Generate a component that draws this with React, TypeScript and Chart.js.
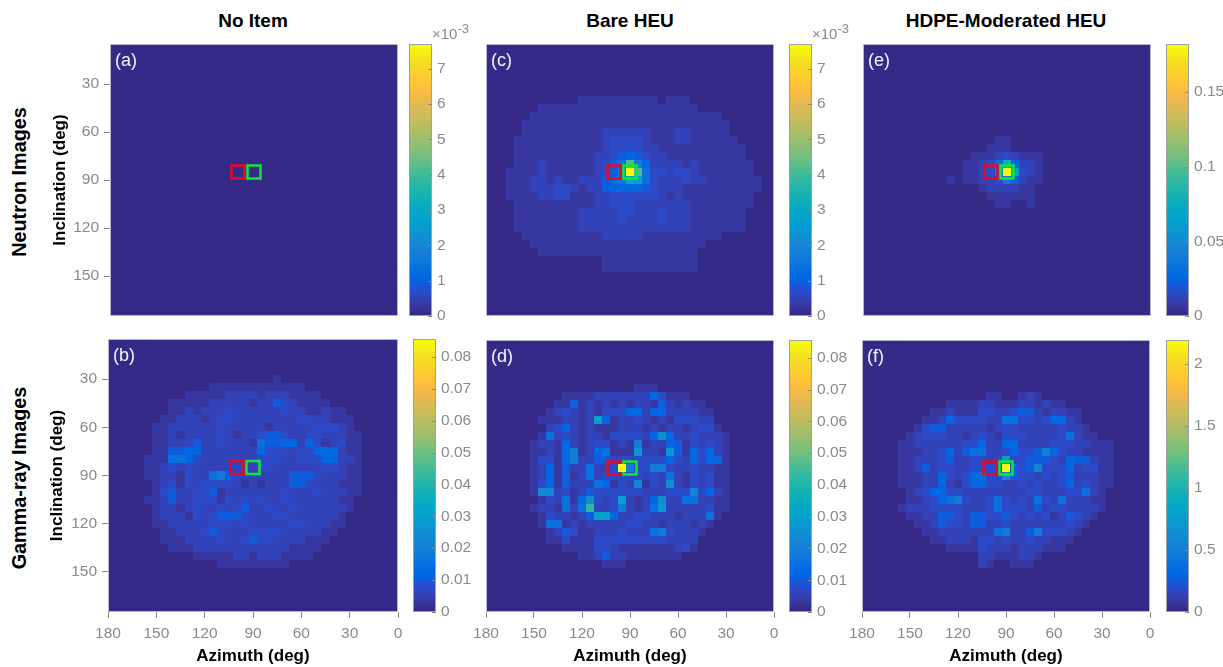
import React, { useEffect, useRef } from "react";
import { Chart, registerables } from "chart.js";

Chart.register(...registerables);

const FONT = '"Liberation Sans", Arial, sans-serif';
const GRAY = "#8a8a8a";
const SOFT = "blur(0.55px)";

// ---- axes ----
const azimuthTicks = [180, 150, 120, 90, 60, 30, 0];
const inclinationTicks = [30, 60, 90, 120, 150];
const azimuthCentres = [180, 175, 170, 165, 160, 155, 150, 145, 140, 135, 130, 125, 120, 115, 110, 105, 100, 95, 90, 85, 80, 75, 70, 65, 60, 55, 50, 45, 40, 35, 30, 25, 20, 15, 10, 5, 0];
const inclinationCentres = [5, 10, 15, 20, 25, 30, 35, 40, 45, 50, 55, 60, 65, 70, 75, 80, 85, 90, 95, 100, 105, 110, 115, 120, 125, 130, 135, 140, 145, 150, 155, 160, 165, 170, 175];

// ---- measurement cells ----
const redBox = [{ x: 100, y: 85 }];
const greenBox = [{ x: 90, y: 85 }];

// ---- colour scale limits and ticks ----
const neutronEmptyMax = 7.7e-3;
const gammaMax = 0.0856;
const moderatedNeutronMax = 0.182;
const moderatedGammaMax = 2.19;
const neutronTicks = [0, 1e-3, 2e-3, 3e-3, 4e-3, 5e-3, 6e-3, 7e-3];
const gammaTicks = [0, 0.01, 0.02, 0.03, 0.04, 0.05, 0.06, 0.07, 0.08];
const moderatedNeutronTicks = [0, 0.05, 0.1, 0.15];
const moderatedGammaTicks = [0, 0.5, 1, 1.5, 2];

// ---- image values: one character per cell, base 36, 0 = scale minimum, z = scale maximum ----
const noItemNeutron: string[] = [];

const noItemGamma = [
  "", "", "", "", "",
  "00000 00000 00000 00000 01000",
  "00000 00000 00011 11111 11111 00000",
  "00000 00000 11111 22221 22211 11000",
  "00000 00011 11122 22212 24321 11100",
  "00000 00011 21222 32222 22322 11211",
  "00000 00112 22123 32222 22223 32211 1",
  "00000 01122 22223 22222 12222 23332 1",
  "00000 01121 22223 21223 44322 33222 11",
  "00000 01122 34223 22216 44552 53123 11",
  "00000 01144 55222 22225 33323 35552 11",
  "00000 11166 53222 22223 33223 33552 21",
  "00000 11232 32222 22223 32222 22332 11",
  "00000 11221 32267 43222 22244 43222 11",
  "00000 01231 32333 32121 22244 32221 11",
  "00000 01342 23341 22222 22322 23222 11",
  "00000 11242 23331 32323 22322 22221 1",
  "00000 01221 23223 23422 32232 22222 1",
  "00000 01222 13234 44322 23322 22221",
  "00000 01122 22233 32322 22233 22211",
  "00000 00112 22343 22233 33222 22110",
  "00000 00111 22223 22343 32222 11100",
  "00000 00011 12222 22222 22211 11000",
  "00000 00000 01111 12212 22111 10000",
  "00000 00000 00001 11111 11100",
];

const bareNeutron = [
  "", "", "", "", "", "", "",
  "00000 00000 00111 11111 11011 10000",
  "00000 00111 11111 11111 11111 11000",
  "00000 01111 11111 11111 11111 11111",
  "00000 11111 11111 11111 11111 11111 1",
  "00000 11111 11111 22222 21112 21111 1",
  "00001 11111 11111 23333 21112 21111 11",
  "00001 11111 11111 23333 22111 11111 111",
  "00001 11111 11112 23454 32211 11111 111",
  "00001 11211 11112 346j8 52222 12111 1111",
  "00011 11211 11112 348zj 63323 32111 1111",
  "00011 12212 11222 457ed 63222 32211 11111",
  "00011 12223 32122 45555 43222 11111 11111",
  "00011 11223 31112 23333 33212 11111 1111",
  "00001 11111 11112 23332 22222 21111 1111",
  "00001 11111 11222 22332 22322 21111 111",
  "00001 11111 11222 22322 22322 21111 111",
  "00001 11111 11222 22222 22222 21111 111",
  "00000 11111 11111 22222 11111 11111",
  "00000 01111 11111 11111 11111 11100",
  "00000 00111 11111 11111 11111 11000",
  "00000 00000 00000 11111 11111 11000",
  "00000 00000 00000 11111 11111 11000",
];

const bareGamma = [
  "", "", "", "", "", "",
  "00000 00000 00000 00001 11000",
  "00000 00000 11112 22222 25311 10000",
  "00000 00001 14121 21212 21421 21100",
  "00000 00012 32121 33355 25522 22110",
  "00000 00111 2212c 51223 21213 33220",
  "00000 00023 52121 11222 12122 12331",
  "00000 00162 32122 13333 25a52 23222 1",
  "00000 01221 52123 31218 12254 13232 1",
  "00000 01121 58125 6111b 221b4 15352 1",
  "00000 01331 58224 42333 33353 25355 1",
  "00000 01251 42262 23z83 38832 23221 1",
  "00000 01251 41262 33333 23262 13231 1",
  "00000 01351 42226 51329 132a2 13231 1",
  "00000 01992 31243 33333 22233 39352 1",
  "00000 00132 615a3 23c21 25a22 66221 1",
  "00000 01221 626h2 23721 26b22 22231 1",
  "00000 00132 2124c c5223 32221 22261",
  "00000 00166 12122 22233 22122 21210",
  "00000 00012 43112 22322 26732 22100",
  "00000 00011 31113 33333 33322 22000",
  "00000 00000 11113 32111 11112 31000",
  "00000 00000 00112 42211 11111 00000",
  "00000 00000 00000 11100",
];

const moderatedNeutron = [
  "", "", "", "", "", "", "", "", "", "", "", "",
  "00000 00000 00000 00110",
  "00000 00000 00000 01110",
  "00000 00000 00001 11232 11100",
  "00000 00000 00011 236f5 22100",
  "00000 00000 00011 237zc 32100",
  "00000 00000 01011 22374 21100",
  "00000 00000 00000 12222 11000",
  "00000 00000 00000 01111 11000",
  "00000 00000 00000 00110 01000",
];

const moderatedGamma = [
  "", "", "", "", "", "", "",
  "00000 00000 00000 01100 12100",
  "00000 00000 01111 22111 22121 10000",
  "00000 00001 12111 33223 44212 21100",
  "00000 00011 25333 32266 33235 52100",
  "00000 00134 42222 21233 22222 32210",
  "00000 01233 32212 32133 32222 36211",
  "00000 11222 22233 52255 22223 33221 11",
  "00000 11122 35246 62235 33485 32211 11",
  "00000 11222 34223 323b3 34443 25442 11",
  "00000 11242 33223 333z4 34933 35233 11",
  "00000 11122 53235 63394 33232 34222 11",
  "00000 11122 52135 53322 32322 35232 11",
  "00000 01235 53322 22222 23322 23362 1",
  "00000 01123 56732 23632 32632 62221 1",
  "00000 12223 33322 23633 32423 32222 1",
  "00000 01122 44324 43343 23231 24321",
  "00000 00112 43324 42232 22222 23210",
  "00000 00011 22222 22672 24733 32100",
  "00000 00001 12221 33232 23221 11000",
  "00000 00000 01111 32221 22211 10000",
  "00000 00000 00000 22111 22100",
  "00000 00000 00000 21001 11000",
];

// ---- parula ----
const parula = [
  [0.2081, 0.1663, 0.5292], [0.2116, 0.1898, 0.5777], [0.2123, 0.2138, 0.627], [0.2081, 0.2386, 0.6771],
  [0.1959, 0.2645, 0.7279], [0.1707, 0.2919, 0.7792], [0.1253, 0.3242, 0.8303], [0.0591, 0.3598, 0.8683],
  [0.0117, 0.3875, 0.882], [0.006, 0.4086, 0.8828], [0.0165, 0.4266, 0.8786], [0.0329, 0.443, 0.872],
  [0.0498, 0.4586, 0.8641], [0.0629, 0.4737, 0.8554], [0.0723, 0.4887, 0.8467], [0.0779, 0.504, 0.8384],
  [0.0793, 0.52, 0.8312], [0.0749, 0.5375, 0.8263], [0.0641, 0.557, 0.824], [0.0488, 0.5772, 0.8228],
  [0.0343, 0.5966, 0.8199], [0.0265, 0.6137, 0.8135], [0.0239, 0.6287, 0.8038], [0.0231, 0.6418, 0.7913],
  [0.0228, 0.6535, 0.7768], [0.0267, 0.6642, 0.7607], [0.0384, 0.6743, 0.7436], [0.059, 0.6838, 0.7254],
  [0.0843, 0.6928, 0.7062], [0.1133, 0.7015, 0.6859], [0.1453, 0.7098, 0.6646], [0.1801, 0.7177, 0.6424],
  [0.2178, 0.725, 0.6193], [0.2586, 0.7317, 0.5954], [0.3022, 0.7376, 0.5712], [0.3482, 0.7424, 0.5473],
  [0.3953, 0.7459, 0.5244], [0.442, 0.7481, 0.5033], [0.4871, 0.7491, 0.484], [0.53, 0.7491, 0.4661],
  [0.5709, 0.7485, 0.4494], [0.6099, 0.7473, 0.4337], [0.6473, 0.7456, 0.4188], [0.6834, 0.7435, 0.4044],
  [0.7184, 0.7411, 0.3905], [0.7525, 0.7384, 0.3768], [0.7858, 0.7356, 0.3633], [0.8185, 0.7327, 0.3498],
  [0.8507, 0.7299, 0.336], [0.8824, 0.7274, 0.3217], [0.9139, 0.7258, 0.3063], [0.945, 0.7261, 0.2886],
  [0.9739, 0.7314, 0.2666], [0.9938, 0.7455, 0.2403], [0.999, 0.7653, 0.2164], [0.9955, 0.7861, 0.1967],
  [0.988, 0.8066, 0.1794], [0.9789, 0.8271, 0.1633], [0.9697, 0.8481, 0.1475], [0.9626, 0.8705, 0.1309],
  [0.9589, 0.8949, 0.1132], [0.9598, 0.9218, 0.0948], [0.9661, 0.9514, 0.0755], [0.9763, 0.9831, 0.0538],
];

function colourOf(fraction: number) {
  const k = Math.max(0, Math.min(parula.length - 1, Math.round(fraction * (parula.length - 1))));
  const [r, g, b] = parula[k];
  return `rgb(${Math.round(r * 255)},${Math.round(g * 255)},${Math.round(b * 255)})`;
}

function cellsFrom(rows: string[], max: number) {
  const points: { x: number; y: number; v: number }[] = [];
  inclinationCentres.forEach((inc, j) => {
    const row = (rows[j] || "").replace(/ /g, "");
    azimuthCentres.forEach((az, i) => {
      const level = parseInt(row[i] || "0", 36) || 0;
      points.push({ x: az, y: inc, v: (level / 35) * max });
    });
  });
  return points;
}

// ---- panels ----
const panels = [
  { label: "(a)", rows: noItemNeutron, max: neutronEmptyMax, ticks: neutronTicks, l: 110, r: 398, t: 44, b: 316, barL: 409, yAxis: true, xAxis: false, titleLeft: 50 },
  { label: "(b)", rows: noItemGamma, max: gammaMax, ticks: gammaTicks, l: 108, r: 398, t: 339, b: 612, barL: 413, yAxis: true, xAxis: true, titleLeft: 47 },
  { label: "(c)", rows: bareNeutron, max: neutronEmptyMax, ticks: neutronTicks, l: 486, r: 774, t: 44, b: 316, barL: 789, yAxis: false, xAxis: false, titleLeft: 0 },
  { label: "(d)", rows: bareGamma, max: gammaMax, ticks: gammaTicks, l: 486, r: 774, t: 340, b: 612, barL: 789, yAxis: false, xAxis: true, titleLeft: 0 },
  { label: "(e)", rows: moderatedNeutron, max: moderatedNeutronMax, ticks: moderatedNeutronTicks, l: 863, r: 1151, t: 44, b: 316, barL: 1166, yAxis: false, xAxis: false, titleLeft: 0 },
  { label: "(f)", rows: moderatedGamma, max: moderatedGammaMax, ticks: moderatedGammaTicks, l: 862, r: 1150, t: 340, b: 612, barL: 1166, yAxis: false, xAxis: true, titleLeft: 0 },
];

const columnTitles = [
  { text: "No Item", x: 253, y: 20 },
  { text: "Bare HEU", x: 630, y: 20 },
  { text: "HDPE-Moderated HEU", x: 1006, y: 20 },
];
const rowTitles = [
  { text: "Neutron Images", x: 20, y: 181.5 },
  { text: "Gamma-ray Images", x: 20, y: 478 },
];
const exponentLabels = [{ x: 432 }, { x: 812 }];

function paintCell(ctx: any, ds: any, x: any, y: any, p: any) {
  const snap = (px: number) => Math.round(px + 1e-6);
  const x0 = snap(x.getPixelForValue(p.x - ds.cellW / 2));
  const x1 = snap(x.getPixelForValue(p.x + ds.cellW / 2));
  const y0 = snap(y.getPixelForValue(p.y - ds.cellH / 2));
  const y1 = snap(y.getPixelForValue(p.y + ds.cellH / 2));
  ctx.fillStyle = colourOf(p.v / ds.scaleMax);
  ctx.fillRect(Math.min(x0, x1), Math.min(y0, y1), Math.abs(x1 - x0), Math.abs(y1 - y0));
}

const cellsPlugin = {
  id: "cells",
  beforeDatasetsDraw(chart: any) {
    const { ctx, chartArea: a, scales } = chart;
    const ds = chart.data.datasets[0];
    ctx.save();
    ctx.beginPath();
    ctx.rect(a.left, a.top, a.width, a.height);
    ctx.clip();
    for (const p of ds.data) paintCell(ctx, ds, scales.x, scales.y, p);
    ctx.restore();
  },
  afterDatasetsDraw(chart: any) {
    const { ctx, chartArea: a, scales } = chart;
    const o = chart.options.plugins.cells;
    const ds = chart.data.datasets[0];
    ctx.save();
    // the peak cell stays on top of the box outlines
    if (o.label) {
      for (const p of ds.data) if (p.v >= ds.scaleMax) paintCell(ctx, ds, scales.x, scales.y, p);
    }
    ctx.strokeStyle = o.frame;
    ctx.lineWidth = 1;
    ctx.strokeRect(a.left + 0.5, a.top + 0.5, a.width - 1, a.height - 1);
    if (o.innerTicks) {
      ctx.strokeStyle = GRAY;
      for (const t of scales.y.ticks) {
        const py = Math.round(scales.y.getPixelForValue(t.value)) + 0.5;
        ctx.beginPath();
        ctx.moveTo(a.right - 4, py);
        ctx.lineTo(a.right, py);
        ctx.stroke();
      }
    }
    if (o.label) {
      ctx.fillStyle = "#f4f4fa";
      ctx.font = `18px ${FONT}`;
      ctx.textBaseline = "middle";
      ctx.textAlign = "left";
      ctx.fillText(o.label, a.left + 5, a.top + 17);
    }
    ctx.restore();
  },
};

function useTicks(values: number[]) {
  return (scale: any) => {
    scale.ticks = values.map((value) => ({ value }));
  };
}

function heatmapConfig(p: (typeof panels)[number]) {
  const leftMargin = p.l - p.titleLeft;
  return {
    type: "scatter",
    data: {
      datasets: [
        { data: cellsFrom(p.rows, p.max), pointRadius: 0, cellW: 5, cellH: 5, scaleMax: p.max },
        { data: redBox, pointStyle: "rect", pointRadius: 9.2, pointBorderWidth: 2.5, pointBorderColor: "#e60a26", pointBackgroundColor: "transparent" },
        { data: greenBox, pointStyle: "rect", pointRadius: 9.2, pointBorderWidth: 2.5, pointBorderColor: "#0ee838", pointBackgroundColor: "transparent" },
      ],
    },
    options: {
      responsive: false,
      animation: false,
      events: [],
      layout: { autoPadding: false, padding: { left: p.yAxis ? 0 : 20, right: 16, top: 4, bottom: p.xAxis ? 0 : 4 } },
      plugins: {
        legend: { display: false },
        tooltip: { enabled: false },
        cells: { label: p.label, frame: "#b6b6d2", innerTicks: false },
      },
      scales: {
        x: {
          type: "linear",
          reverse: true,
          min: 0,
          max: 180,
          display: p.xAxis,
          afterBuildTicks: useTicks(azimuthTicks),
          afterFit: (s: any) => {
            if (!p.xAxis) return;
            s.height = 55;
            s.paddingLeft = s.paddingRight = 0;
          },
          grid: { drawOnChartArea: false, drawTicks: true, tickLength: 6, color: GRAY },
          border: { display: false },
          ticks: { color: GRAY, font: { family: FONT, size: 15.5 }, padding: 6, maxRotation: 0, autoSkip: false },
          title: { display: true, text: "Azimuth (deg)", color: "#000", font: { family: FONT, size: 17, weight: "bold" }, padding: 0 },
        },
        y: {
          type: "linear",
          reverse: true,
          min: 5,
          max: 175,
          display: p.yAxis,
          afterBuildTicks: useTicks(inclinationTicks),
          afterFit: (s: any) => {
            if (!p.yAxis) return;
            s.width = leftMargin;
            s.paddingTop = s.paddingBottom = 0;
          },
          grid: { drawOnChartArea: false, drawTicks: true, tickLength: 6, color: GRAY },
          border: { display: false },
          ticks: { color: GRAY, font: { family: FONT, size: 15.5 }, padding: 5, autoSkip: false },
          title: { display: true, text: "Inclination (deg)", color: "#000", font: { family: FONT, size: 17, weight: "bold" }, padding: 0 },
        },
      },
    },
    plugins: [cellsPlugin],
  };
}

function colorbarConfig(p: (typeof panels)[number]) {
  const n = parula.length;
  return {
    type: "scatter",
    data: {
      datasets: [
        {
          data: parula.map((_, k) => ({ x: 0.5, y: ((k + 0.5) / n) * p.max, v: (k / (n - 1)) * p.max })),
          pointRadius: 0,
          cellW: 1,
          cellH: p.max / n,
          scaleMax: p.max,
        },
      ],
    },
    options: {
      responsive: false,
      animation: false,
      events: [],
      layout: { autoPadding: false, padding: { left: 0, right: 0, top: 8, bottom: 8 } },
      plugins: {
        legend: { display: false },
        tooltip: { enabled: false },
        cells: { frame: "#a0a0a0", innerTicks: true },
      },
      scales: {
        x: { type: "linear", min: 0, max: 1, display: false },
        y: {
          type: "linear",
          position: "right",
          min: 0,
          max: p.max,
          afterBuildTicks: useTicks(p.ticks),
          afterFit: (s: any) => {
            s.width = 44;
            s.paddingTop = s.paddingBottom = 0;
          },
          grid: { display: false, drawTicks: false },
          border: { display: false },
          ticks: {
            color: GRAY,
            font: { family: FONT, size: 15.5 },
            padding: 5,
            autoSkip: false,
            callback: (v: number) => (p.ticks === neutronTicks ? String(Math.round(v * 1000)) : String(+v.toFixed(3))),
          },
        },
      },
    },
    plugins: [cellsPlugin],
  };
}

const textBase: React.CSSProperties = { position: "absolute", fontFamily: FONT, whiteSpace: "nowrap", lineHeight: 1 };

export default function App() {
  const heatRefs = useRef<(HTMLCanvasElement | null)[]>([]);
  const barRefs = useRef<(HTMLCanvasElement | null)[]>([]);

  useEffect(() => {
    const charts: Chart[] = [];
    panels.forEach((p, i) => {
      charts.push(new Chart(heatRefs.current[i] as HTMLCanvasElement, heatmapConfig(p) as any));
      charts.push(new Chart(barRefs.current[i] as HTMLCanvasElement, colorbarConfig(p) as any));
    });
    return () => charts.forEach((c) => c.destroy());
  }, []);

  return (
    <div>
      {panels.map((p, i) => {
        const lm = p.yAxis ? p.l - p.titleLeft : 20;
        const bm = p.xAxis ? 55 : 4;
        return (
          <React.Fragment key={p.label}>
            <canvas
              ref={(el) => {
                heatRefs.current[i] = el;
              }}
              width={p.r - p.l + lm + 16}
              height={p.b - p.t + 4 + bm}
              style={{ position: "absolute", left: p.l - lm, top: p.t - 4, display: "block", filter: SOFT }}
            />
            <canvas
              ref={(el) => {
                barRefs.current[i] = el;
              }}
              width={23 + 44}
              height={p.b - p.t + 16}
              style={{ position: "absolute", left: p.barL, top: p.t - 8, display: "block", filter: SOFT }}
            />
          </React.Fragment>
        );
      })}
      {columnTitles.map((c) => (
        <div key={c.text} style={{ ...textBase, left: c.x, top: c.y, transform: "translate(-50%,-50%)", fontSize: 19, fontWeight: 700, color: "#000" }}>
          {c.text}
        </div>
      ))}
      {rowTitles.map((c) => (
        <div key={c.text} style={{ ...textBase, left: c.x, top: c.y, transform: "translate(-50%,-50%) rotate(-90deg)", fontSize: 19.8, fontWeight: 700, color: "#000" }}>
          {c.text}
        </div>
      ))}
      {exponentLabels.map((e) => (
        <div key={e.x} style={{ ...textBase, left: e.x, top: 26, fontSize: 15, color: GRAY }}>
          ×10<sup style={{ fontSize: 13, verticalAlign: "6px", lineHeight: 0 }}>-3</sup>
        </div>
      ))}
    </div>
  );
}
